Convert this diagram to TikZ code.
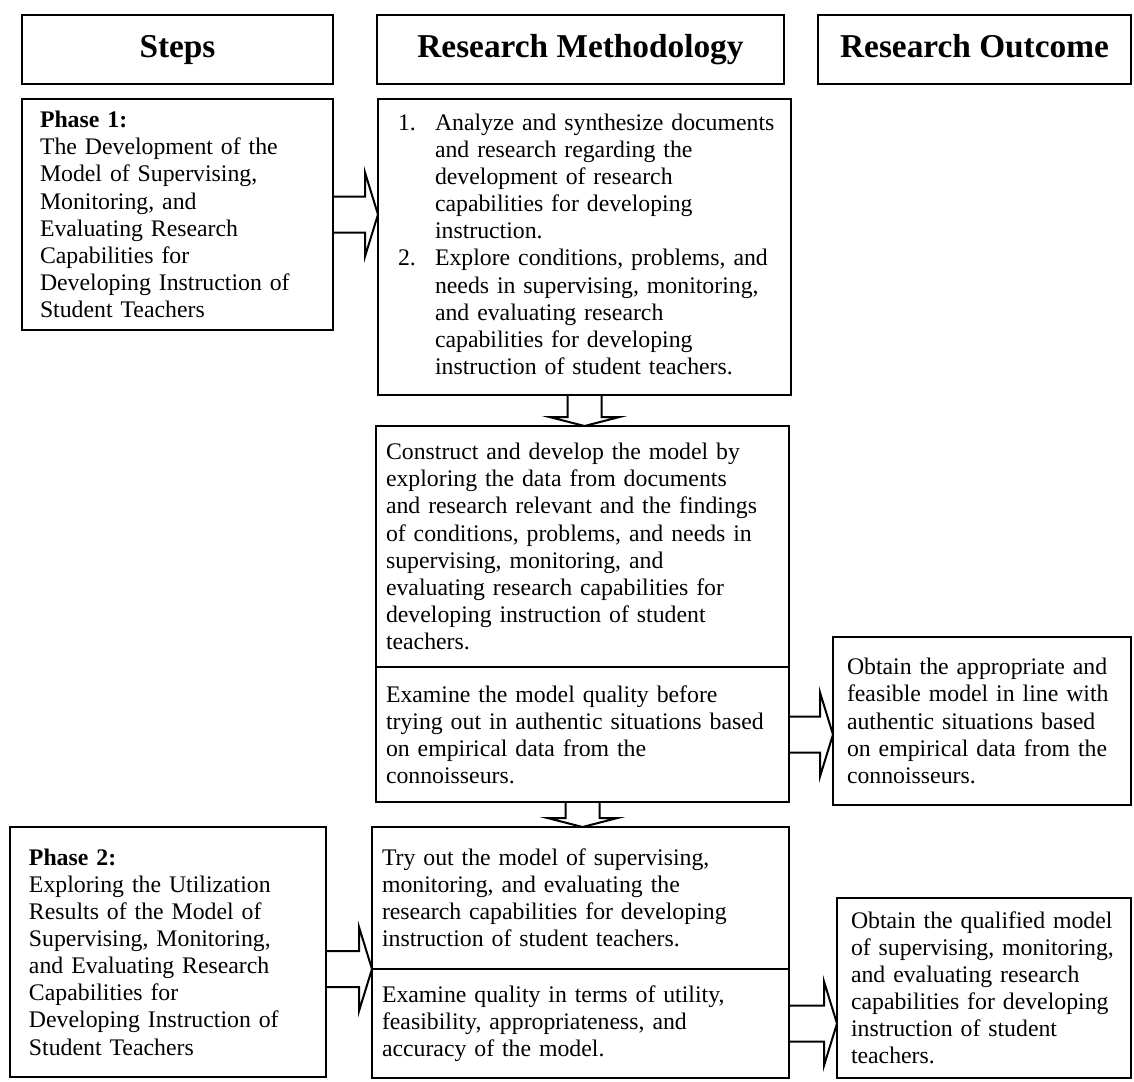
\documentclass[tikz,border=0pt]{standalone}
\usepackage{fontspec}
\setmainfont{Liberation Serif}
\usepackage{tikz}
\usetikzlibrary{calc}

% hollow block arrows: #1 tail point, #2 tip point
\newcommand{\rightblock}[2]{\draw[blk] ($(#1)+(0,-18)$) -- ($(#2)+(-13,-18)$) -- ($(#2)+(-13,-42)$) -- (#2) -- ($(#2)+(-13,42)$) -- ($(#2)+(-13,18)$) -- ($(#1)+(0,18)$);}
\newcommand{\downblock}[2]{\draw[blk] ($(#1)+(-17,0)$) -- ($(#2)+(-17,-9)$) -- ($(#2)+(-35,-9)$) -- (#2) -- ($(#2)+(35,-9)$) -- ($(#2)+(17,-9)$) -- ($(#1)+(17,0)$);}

\begin{document}
\begin{tikzpicture}[x=0.45pt,y=-0.45pt,
 head/.style={draw,line width=0.9pt,anchor=north west,minimum height=31.05pt,inner sep=0pt,outer sep=0pt,text height=10pt,text depth=3pt,font=\fontsize{15}{18}\selectfont\bfseries},
 box/.style={draw,line width=0.9pt,anchor=north west,align=left,inner ysep=3pt,outer sep=0pt,font=\fontsize{10.7}{12.2}\selectfont},
 blk/.style={draw,line width=0.9pt,line join=miter}]
 \fill[white] (0,0) rectangle (1134,1081);
 \useasboundingbox (0,0) rectangle (1134,1081);
 % column heads
 \node[head,minimum width=139.95pt] (hsteps) at (22,15) {Steps};
 \node[head,minimum width=183.15pt] (hmethod) at (377,15) {Research Methodology};
 \node[head,minimum width=140.85pt] (hout) at (818,15) {Research Outcome};
 % phase 1
 \node[box,inner xsep=8.1pt,text width=123.75pt,minimum height=103.95pt] (ph1) at (22,99)
  {\textbf{Phase 1:}\\The Development of the\\Model of Supervising,\\Monitoring, and\\Evaluating Research\\Capabilities for\\Developing Instruction of\\Student Teachers};
 \node[box,inner xsep=9pt,text width=167.85pt,minimum height=133.2pt] (rm1) at (378,99)
  {\begin{tabular}{@{}p{16.65pt}@{}l@{}}
   1. & Analyze and synthesize documents\\
      & and research regarding the\\
      & development of research\\
      & capabilities for developing\\
      & instruction.\\
   2. & Explore conditions, problems, and\\
      & needs in supervising, monitoring,\\
      & and evaluating research\\
      & capabilities for developing\\
      & instruction of student teachers.
  \end{tabular}};
 \node[box,inner xsep=4.5pt,text width=176.85pt,minimum height=108.45pt] (rm2) at (376,426)
  {Construct and develop the model by\\exploring the data from documents\\and research relevant and the findings\\of conditions, problems, and needs in\\supervising, monitoring, and\\evaluating research capabilities for\\developing instruction of student\\teachers.};
 \node[box,inner xsep=4.5pt,text width=176.85pt,minimum height=60.75pt] (rm3) at (rm2.south west)
  {Examine the model quality before\\trying out in authentic situations based\\on empirical data from the\\connoisseurs.};
 \node[box,inner xsep=6.3pt,text width=121.5pt,minimum height=75.6pt] (out1) at (833,637)
  {Obtain the appropriate and\\feasible model in line with\\authentic situations based\\on empirical data from the\\connoisseurs.};
 % phase 2
 \node[box,inner xsep=8.55pt,text width=125.1pt,minimum height=112.5pt] (ph2) at (10,827)
  {\textbf{Phase 2:}\\Exploring the Utilization\\Results of the Model of\\Supervising, Monitoring,\\and Evaluating Research\\Capabilities for\\Developing Instruction of\\Student Teachers};
 \node[box,inner xsep=4.5pt,text width=178.65pt,minimum height=63.9pt] (rm4) at (372,827)
  {Try out the model of supervising,\\monitoring, and evaluating the\\research capabilities for developing\\instruction of student teachers.};
 \node[box,inner xsep=4.5pt,text width=178.65pt,minimum height=49.05pt] (rm5) at (rm4.south west)
  {Examine quality in terms of utility,\\feasibility, appropriateness, and\\accuracy of the model.};
 \node[box,inner xsep=6.3pt,text width=119.7pt,minimum height=81pt] (out2) at (837,898)
  {Obtain the qualified model\\of supervising, monitoring,\\and evaluating research\\capabilities for developing\\instruction of student\\teachers.};
 % block arrows
 \rightblock{ph1.east}{ph1.east -| rm1.west}
 \downblock{rm1.south}{rm1.south |- rm2.north}
 \rightblock{rm3.east}{rm3.east -| out1.west}
 \downblock{rm3.south}{rm3.south |- rm4.north}
 \rightblock{ph2.east |- rm4.south}{rm4.south west}
 \rightblock{rm5.east}{rm5.east -| out2.west}
\end{tikzpicture}
\end{document}
